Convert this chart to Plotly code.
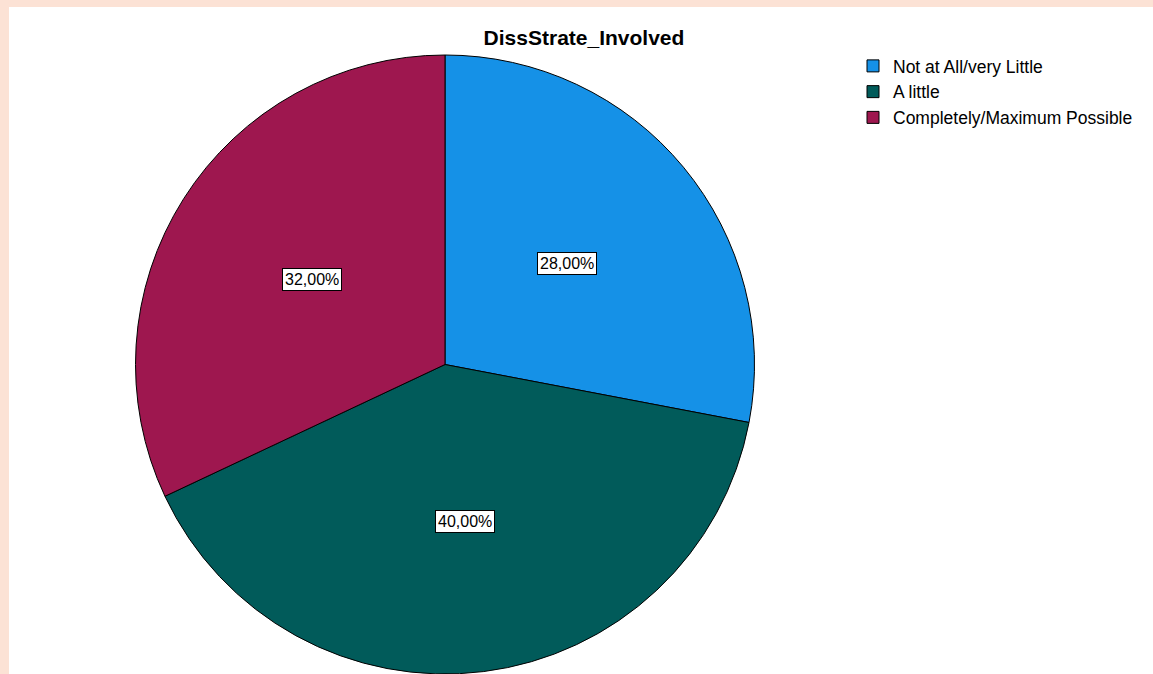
import math
import plotly.graph_objects as go

# Data
title_text = "DissStrate_Involved"
categories = ["Not at All/very Little", "A little", "Completely/Maximum Possible"]
percents = [28.0, 40.0, 32.0]
colors = ["#1591E7", "#015B5A", "#9E174F"]

W, H = 1153, 674
cx, cy = 445.0, 364.5          # pie centre in px
r = 309.5                       # pie radius in px

fig = go.Figure()
fig.add_trace(go.Pie(
    labels=categories,
    values=percents,
    sort=False,
    direction="clockwise",
    rotation=0,
    marker=dict(colors=colors, line=dict(color="#000000", width=1)),
    textinfo="none",
    hoverinfo="label+percent",
    domain=dict(x=[(cx - r) / W, (cx + r) / W], y=[0, 1 - (cy - r) / H]),
    showlegend=True,
))

# percentage labels in boxes at mid-angle of each slice
total = sum(percents)
cum = 0.0
annotations = []
for v in percents:
    mid = (cum + v / 2) / total * 2 * math.pi
    cum += v
    px = cx + 0.51 * r * math.sin(mid)
    py = cy - 0.51 * r * math.cos(mid)
    annotations.append(dict(
        x=px / W, y=1 - py / H, xref="paper", yref="paper",
        text=f"{v:.2f}".replace(".", ",") + "%",
        showarrow=False,
        font=dict(family="Liberation Sans, Arial, sans-serif", size=16, color="#000000"),
        bgcolor="#FFFFFF", bordercolor="#000000", borderwidth=1, borderpad=2,
        xanchor="center", yanchor="middle",
    ))

peach = "#FCE2D5"
shapes = [
    dict(type="rect", xref="paper", yref="paper", x0=0, x1=1, y0=1 - 7 / H, y1=1,
         fillcolor=peach, line=dict(width=0), layer="above"),
    dict(type="rect", xref="paper", yref="paper", x0=0, x1=9 / W, y0=0, y1=1,
         fillcolor=peach, line=dict(width=0), layer="above"),
]

fig.update_layout(
    width=W, height=H,
    margin=dict(l=0, r=0, t=0, b=0),
    paper_bgcolor="#FFFFFF",
    title=dict(text=f"<b>{title_text}</b>", x=584 / W, xanchor="center",
               y=1 - 38 / H, yanchor="middle",
               font=dict(family="Liberation Sans, Arial, sans-serif", size=21, color="#000000")),
    legend=dict(x=853 / W, xanchor="left", y=1 - 48 / H, yanchor="top",
                font=dict(family="Liberation Sans, Arial, sans-serif", size=17.5, color="#000000"),
                bgcolor="rgba(0,0,0,0)", tracegroupgap=0),
    annotations=annotations,
    shapes=shapes,
)

fig.write_html(
    "out.html",
    config={"displayModeBar": False},
    post_script="document.body.style.margin='0';document.body.style.overflow='hidden';",
)
